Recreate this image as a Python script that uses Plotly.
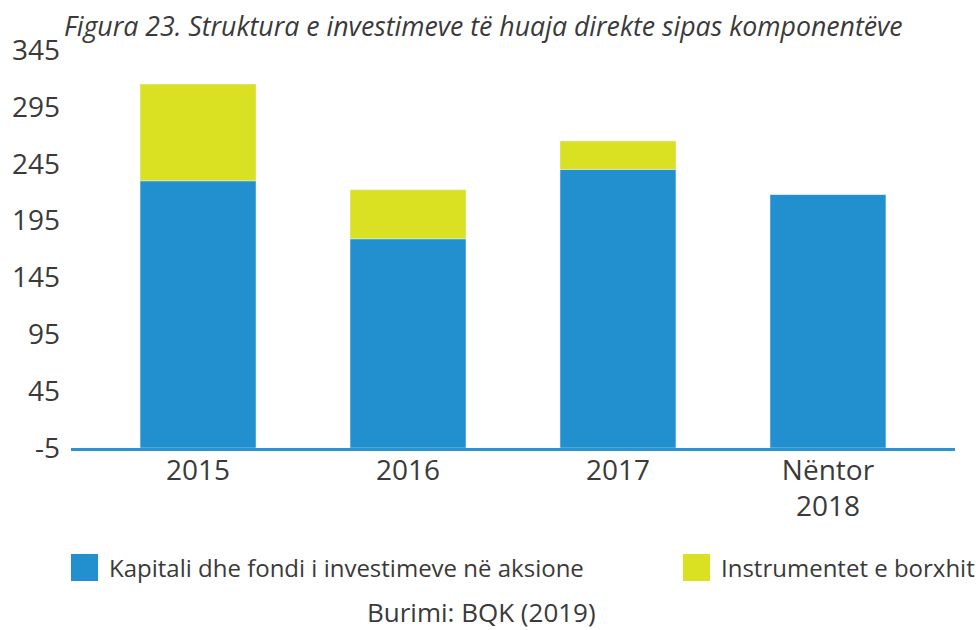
import plotly.graph_objects as go

# ---- data ----
categories = ["2015", "2016", "2017", "Nëntor<br>2018"]
equity = [230, 179, 240, 218]          # Kapitali dhe fondi i investimeve në aksione
debt = [85, 43, 25, 0]                 # Instrumentet e borxhit
series_names = ["Kapitali dhe fondi i investimeve në aksione", "Instrumentet e borxhit"]
tick_values = [-5, 45, 95, 145, 195, 245, 295, 345]
tick_labels = ["-5", "45", "95", "145", "195", "245", "295", "345"]
title_text = "Figura 23. Struktura e investimeve të huaja direkte sipas komponentëve"
source_text = "Burimi: BQK (2019)"

# ---- style ----
BLUE = "#2290CE"
YELLOW = "#DAE022"
TEXT = "#3a3a3a"
FONT = "Open Sans"
W, H = 979, 630
# plot area in pixels: x 71..955, y 50..448
PX0, PX1, PY0, PY1 = 71, 955, 50, 448
ML, MT = PX0, PY0
MR, MB = W - PX1, H - PY1
AXIS_MIN, AXIS_MAX = -5, 345
PW, PH = PX1 - PX0, PY1 - PY0


def px_x(px):
    return (px - PX0) / PW


def px_y(py):
    return (PY1 - py) / PH


fig = go.Figure()
fig.add_trace(go.Bar(
    x=categories, y=[v - AXIS_MIN for v in equity], base=AXIS_MIN,
    name=series_names[0], marker_color=BLUE, width=0.552,
    customdata=equity, hovertemplate="%{x}: %{customdata}<extra></extra>",
    showlegend=False,
))
fig.add_trace(go.Bar(
    x=categories, y=debt, base=equity,
    name=series_names[1], marker_color=YELLOW, width=0.552,
    hovertemplate="%{x}: %{y}<extra></extra>",
    showlegend=False,
))

# manual legend (large square swatches)
legend_items = [(series_names[0], BLUE, 71), (series_names[1], YELLOW, 683)]
for name, color, x0 in legend_items:
    fig.add_shape(type="rect", xref="paper", yref="paper",
                  x0=px_x(x0), x1=px_x(x0 + 27), y0=px_y(554), y1=px_y(581),
                  fillcolor=color, line_width=0)
    fig.add_annotation(xref="paper", yref="paper", x=px_x(x0 + 36), y=px_y(567),
                       text=name, showarrow=False, xanchor="left", yanchor="middle",
                       font=dict(family=FONT, size=24, color=TEXT))

fig.add_annotation(xref="paper", yref="paper", x=px_x(481), y=px_y(612),
                   text=source_text, showarrow=False, xanchor="center", yanchor="middle",
                   font=dict(family=FONT, size=26, color=TEXT))

fig.update_layout(
    width=W, height=H,
    margin=dict(l=ML, r=MR, t=MT, b=MB),
    paper_bgcolor="white", plot_bgcolor="white",
    barmode="overlay",
    font=dict(family=FONT, color=TEXT),
    title=dict(text="<i>" + title_text + "</i>", x=64 / W, xref="container", xanchor="left",
               y=1 - 27 / H, yref="container", yanchor="middle",
               font=dict(family=FONT, size=26.7, color=TEXT)),
    xaxis=dict(range=[-0.605, 3.605], showgrid=False, showline=True, linecolor="#2B93D1",
               linewidth=3, ticks="", tickfont=dict(family=FONT, size=28, color=TEXT),
               zeroline=False, ticklabelstandoff=-5),
    yaxis=dict(range=[AXIS_MIN, AXIS_MAX], tickvals=tick_values, ticktext=tick_labels,
               showgrid=False, zeroline=False,
               showline=False, ticks="", ticklabelstandoff=10,
               tickfont=dict(family=FONT, size=28, color=TEXT)),
)

fig.write_html("out.html",
               config={"displayModeBar": False},
               post_script="document.body.style.margin='0';document.body.style.overflow='hidden';")
